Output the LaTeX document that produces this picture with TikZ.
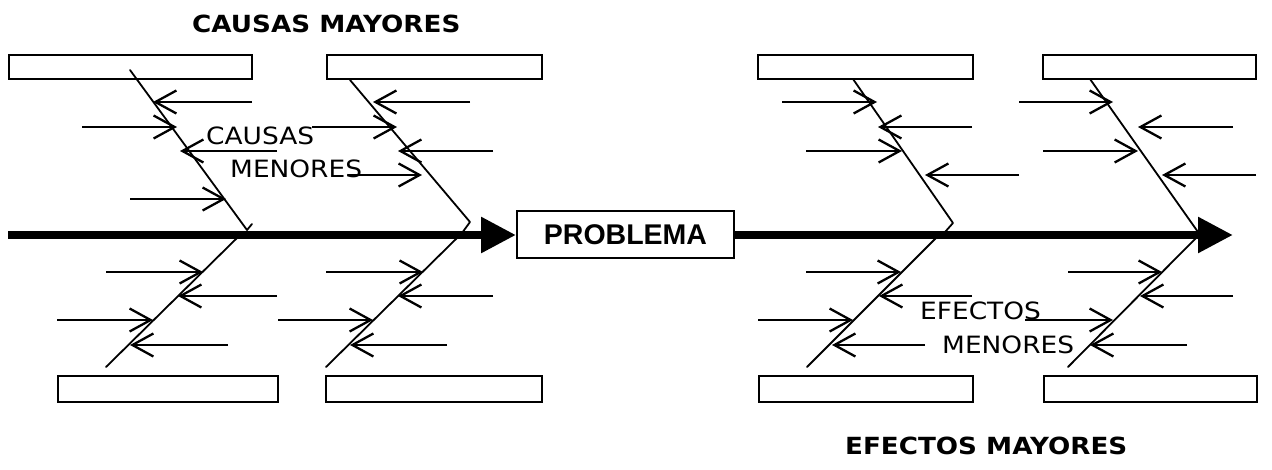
\documentclass[tikz,border=0pt]{standalone}
\usepackage{fontspec}
\usetikzlibrary{arrows.meta}
\newfontfamily\labelfont{DejaVu Sans}
\newfontfamily\probfont{Liberation Sans}
\newcommand{\wide}[1]{\scalebox{1.11}[1]{#1}}
\begin{document}
\begin{tikzpicture}[x=1pt, y=-1pt,
  slot/.style={draw, line width=1.8pt, anchor=north west, inner sep=0pt, minimum height=24pt},
  bone/.style={line width=1.8pt, line join=round, line cap=round},
  twig/.style={line width=1.8pt, -{Straight Barb[length=21pt, width=23pt, line width=2.3pt]}},
  spine/.style={line width=8.5pt, -{Triangle[length=35pt, width=34pt]}},
  minor/.style={inner sep=0pt, anchor=base west, font=\labelfont\fontsize{23.8}{28}\selectfont},
  major/.style={inner sep=0pt, anchor=base west, font=\labelfont\bfseries\fontsize{23.6}{28}\selectfont}
]
\useasboundingbox (0,0) rectangle (1272,469);

% major category boxes
\node[slot, minimum width=243pt] (b1) at (8,54) {};
\node[slot, minimum width=215pt] (b2) at (326,54) {};
\node[slot, minimum width=215pt] (b3) at (757,54) {};
\node[slot, minimum width=213pt] (b4) at (1042,54) {};
\node[slot, minimum width=220pt, minimum height=26pt] (b5) at (57,375) {};
\node[slot, minimum width=216pt, minimum height=26pt] (b6) at (325,375) {};
\node[slot, minimum width=214pt, minimum height=26pt] (b7) at (758,375) {};
\node[slot, minimum width=213pt, minimum height=26pt] (b8) at (1043,375) {};

% central problem
\node[draw, line width=1.9pt, minimum width=217pt, minimum height=47pt, inner sep=0pt,
      font=\probfont\bfseries\fontsize{28.5}{30}\selectfont] (prob) at (625.5,234.5) {PROBLEMA};

% spine
\coordinate (tail) at (8,235);
\coordinate (head) at (1233,235);
\draw[spine] (tail) -- (prob.west |- tail);
\draw[spine] (prob.east |- head) -- (head);

% diagonal bones
\coordinate (u1a) at (130,70);   \coordinate (u1b) at (247,230);  \coordinate (u1c) at (252,224);
\coordinate (u2a) at (350,80);   \coordinate (u2b) at (470,222);  \coordinate (u2c) at (462,233);
\coordinate (u3a) at (853,79);   \coordinate (u3b) at (953,223);  \coordinate (u3c) at (945,232);
\coordinate (u4a) at (1090,79);  \coordinate (u4b) at (1198,232);
\coordinate (d1a) at (237,238);  \coordinate (d1b) at (106,367);
\coordinate (d2a) at (457,238);  \coordinate (d2b) at (326,367);
\coordinate (d3a) at (936,238);  \coordinate (d3b) at (807,367);
\coordinate (d4a) at (1196,238); \coordinate (d4b) at (1068,367);
\draw[bone] (u1a) -- (u1b) -- (u1c);
\draw[bone] (u2a) -- (u2b) -- (u2c);
\draw[bone] (u3a) -- (u3b) -- (u3c);
\draw[bone] (u4a) -- (u4b);
\draw[bone] (d1a) -- (d1b);
\draw[bone] (d2a) -- (d2b);
\draw[bone] (d3a) -- (d3b);
\draw[bone] (d4a) -- (d4b);

% minor arrows: name / start x / tip x / y
\foreach \n/\sx/\tx/\yy in {
  a1/252/153/102, a2/82/177/127, a3/277/180/151, a4/130/226/199,
  a5/470/373/102, a6/312/397/127, a7/493/398/151, a8/348/422/175,
  a9/782/877/102, a10/972/878/127, a11/806/902/151, a12/1019/925/175,
  a13/1019/1113/102, a14/1233/1138/127, a15/1043/1138/151, a16/1256/1162/175,
  a17/106/203/272, a18/277/178/296, a19/57/153/320, a20/228/130/345,
  a21/326/423/272, a22/493/398/296, a23/278/373/320, a24/447/350/345,
  a25/806/901/272, a26/972/879/296, a27/758/853/320, a28/925/832/345,
  a29/1068/1162/272, a30/1233/1140/296, a31/1025/1113/320, a32/1187/1090/345}{
  \coordinate (s\n) at (\sx,\yy);
  \coordinate (e\n) at (\tx,\yy);
  \draw[twig] (s\n) -- (e\n);
}

% labels
\node[major] (cmay) at (192,32) {\wide{CAUSAS MAYORES}};
\node[major] (emay) at (845,454) {\wide{EFECTOS MAYORES}};
\node[minor] (cmen1) at (206,144) {\wide{CAUSAS}};
\node[minor] (cmen2) at (230,177) {\wide{MENORES}};
\node[minor] (emen1) at (920,319) {\wide{EFECTOS}};
\node[minor] (emen2) at (942,353) {\wide{MENORES}};
\end{tikzpicture}
\end{document}
